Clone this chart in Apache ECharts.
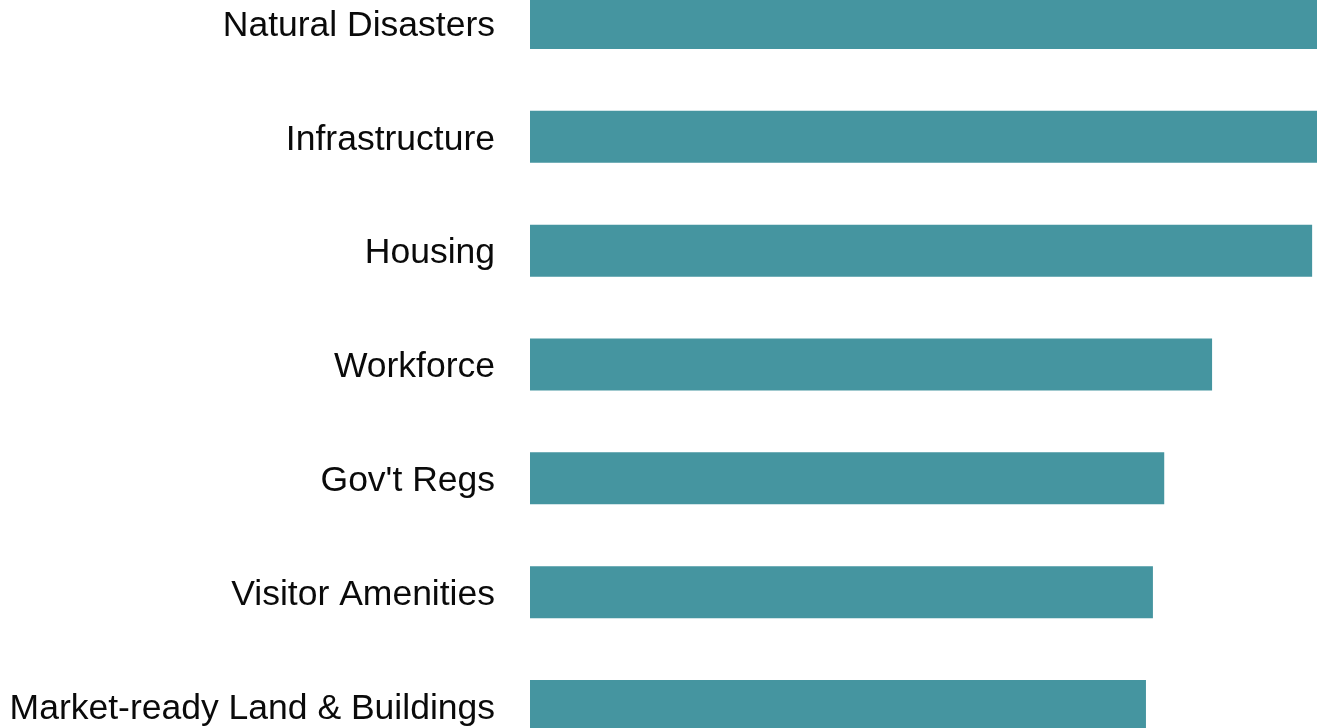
<!DOCTYPE html>
<html><head><meta charset="utf-8">
<script src="https://cdn.jsdelivr.net/npm/echarts@6/dist/echarts.min.js"></script>
<style>html,body{margin:0;padding:0;background:#fff;overflow:hidden;width:1317px;height:728px;position:relative}
#c{position:absolute;left:0;top:-34px;width:1400px;height:797px}</style>
</head><body><div id="c"></div>
<script>
const categories = ["Natural Disasters","Infrastructure","Housing","Workforce","Gov't Regs","Visitor Amenities","Market-ready Land & Buildings"];
const values = [95, 93, 89.9, 78.4, 72.9, 71.6, 70.8];

const chart = echarts.init(document.getElementById('c'), null, {renderer:'canvas'});
chart.setOption({
  animation:false,
  grid:{left:530, right:0, top:0, bottom:0, containLabel:false},
  xAxis:{type:'value', min:0, max:100, show:false},
  yAxis:{type:'category', inverse:true, data:categories,
    axisLine:{show:false}, axisTick:{show:false}, splitLine:{show:false},
    axisLabel:{margin:35, formatter:function(v){return '{a|' + v + '}';},
      rich:{a:{color:'#0a0a0a', fontSize:35.5, fontFamily:'Liberation Sans', padding:[6,0,0,0]}}}},
  series:[{type:'bar', data:values, barWidth:52, itemStyle:{color:'#4595a0'}, silent:true}]
});
</script></body></html>
